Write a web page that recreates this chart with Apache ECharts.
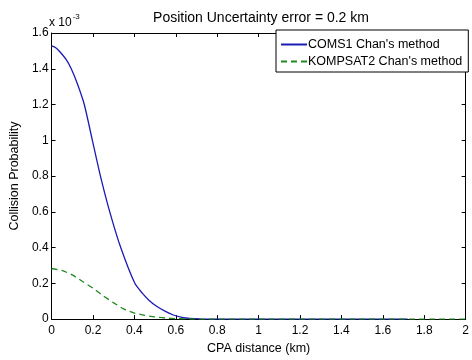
<!DOCTYPE html>
<html>
<head>
<meta charset="utf-8">
<script src="https://cdn.jsdelivr.net/npm/echarts@6/dist/echarts.min.js"></script>
<style>
    html, body { margin: 0; padding: 0; background: #fff; }
    #chart { width: 472px; height: 360px; }
</style>
</head>
<body>
<div id="chart"></div>
<script>
// distances in km, probabilities in units of 1e-3
var comsDist = [0, 0.02, 0.04, 0.07, 0.095, 0.125, 0.158, 0.197, 0.236, 0.281, 0.334, 0.402, 0.438, 0.47, 0.509, 0.55, 0.588, 0.63, 0.667, 0.72, 0.8, 1.0, 1.4, 1.72];
var comsProb = [1.528, 1.518, 1.495, 1.452, 1.40, 1.315, 1.20, 1.00, 0.80, 0.60, 0.40, 0.20, 0.145, 0.106, 0.070, 0.043, 0.023, 0.010, 0.004, 0.001, 0, 0, 0, 0];

var kompDist = [0, 0.05, 0.1, 0.15, 0.2, 0.25, 0.3, 0.35, 0.4, 0.45, 0.5, 0.55, 0.6, 0.65, 0.7, 0.75, 1.0, 1.5, 2.0];
var kompProb = [0.283, 0.272, 0.247, 0.21, 0.173, 0.13, 0.091, 0.056, 0.034, 0.021, 0.012, 0.006, 0.003, 0.001, 0.0003, 0, 0, 0, 0];

var seriesNames = ["COMS1 Chan's method", "KOMPSAT2 Chan's method"];

function pairs(xs, ys) {
    return xs.map(function (x, i) { return [x, ys[i]]; });
}

var font = "'Liberation Sans', Arial, sans-serif";
var myChart = echarts.init(document.getElementById('chart'));

var axisCommon = {
    axisLine: { show: true, onZero: false, lineStyle: { color: '#000', width: 1 } },
    axisTick: { show: true, inside: true, length: 4, lineStyle: { color: '#000' } },
    splitLine: { show: false }
};

var option = {
    backgroundColor: '#fff',
    animation: false,
    textStyle: { fontFamily: font },
    title: {
        text: 'Position Uncertainty error = 0.2 km',
        left: 256, top: 6, textAlign: 'center',
        textStyle: { fontFamily: font, fontSize: 14, fontWeight: 'normal', color: '#000' }
    },
    legend: {
        data: seriesNames,
        orient: 'vertical',
        left: 276, top: 30,
        itemWidth: 26, itemHeight: 12, itemGap: 4,
        padding: [8, 6, 4, 4],
        borderColor: '#000', borderWidth: 1, borderRadius: 0,
        backgroundColor: '#fff',
        itemStyle: { opacity: 0 },
        textStyle: { fontFamily: font, fontSize: 12.5, color: '#000', padding: [0, 0, 0, -4] }
    },
    grid: { left: 49, right: 0, top: 33, bottom: 32 },
    xAxis: [
        Object.assign({}, axisCommon, {
            type: 'value', min: 0, max: 2, interval: 0.2, position: 'bottom',
            name: 'CPA distance (km)', nameLocation: 'middle', nameGap: 21,
            nameTextStyle: { fontFamily: font, fontSize: 12.5, color: '#000' },
            axisLabel: { fontFamily: font, fontSize: 12, color: '#000', margin: 6 }
        }),
        Object.assign({}, axisCommon, {
            type: 'value', min: 0, max: 2, interval: 0.2, position: 'top',
            axisLabel: { show: false }
        })
    ],
    yAxis: [
        Object.assign({}, axisCommon, {
            type: 'value', min: 0, max: 1.6, interval: 0.2, position: 'left',
            name: 'Collision Probability', nameLocation: 'middle', nameGap: 28,
            nameTextStyle: { fontFamily: font, fontSize: 12.5, color: '#000' },
            axisLabel: { fontFamily: font, fontSize: 12, color: '#000', margin: 3 }
        }),
        Object.assign({}, axisCommon, {
            type: 'value', min: 0, max: 1.6, interval: 0.2, position: 'right',
            axisLabel: { show: false }
        })
    ],
    graphic: [{
        type: 'text', left: 49, top: 13,
        style: {
            text: '{b|x 10}{s|-3}',
            rich: {
                b: { fontFamily: font, fontSize: 12, fill: '#000', verticalAlign: 'bottom', lineHeight: 16 },
                s: { fontFamily: font, fontSize: 8, fill: '#000', verticalAlign: 'top', lineHeight: 16, padding: [0, 0, 8, 1] }
            }
        }
    }],
    series: [
        {
            name: seriesNames[0], type: 'line', showSymbol: false, symbol: 'none',
            smooth: 0.2,
            data: pairs(comsDist, comsProb),
            lineStyle: { color: '#1a1ab4', width: 1.3 },
            itemStyle: { color: '#1a1ab4' }
        },
        {
            name: seriesNames[1], type: 'line', showSymbol: false, symbol: 'none',
            smooth: 0.2,
            data: pairs(kompDist, kompProb),
            lineStyle: { color: '#1f8a1f', width: 1.3, type: [6, 4] },
            itemStyle: { color: '#1f8a1f' }
        }
    ]
};

myChart.setOption(option);
</script>
</body>
</html>
